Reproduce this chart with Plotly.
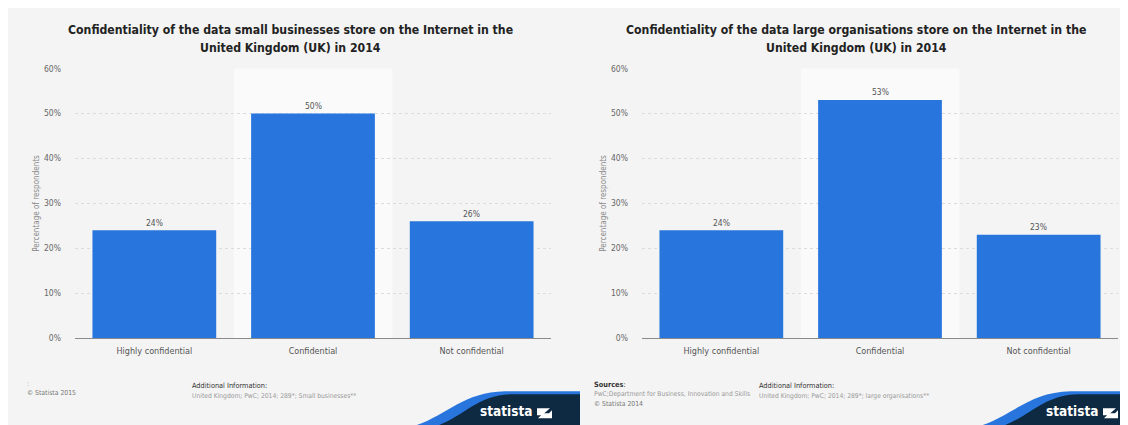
import plotly.graph_objects as go

categories = ["Highly confidential", "Confidential", "Not confidential"]
small_values = [24, 50, 26]
large_values = [24, 53, 23]
tick_vals = [0, 10, 20, 30, 40, 50, 60]
tick_text = ["0%", "10%", "20%", "30%", "40%", "50%", "60%"]

title_left = ["Confidentiality of the data small businesses store on the Internet in the",
              "United Kingdom (UK) in 2014"]
title_right = ["Confidentiality of the data large organisations store on the Internet in the",
               "United Kingdom (UK) in 2014"]

# page body has an 8px margin; positions below are given in reference pixels
OFF = 8
W, H = 1128 - OFF, 425 - OFF
def px(x): return (x - OFF) / W
def py(y):
    p = (y - 5.8) / 0.974  # vertical calibration of the rendered page
    return 1 - (p - OFF) / H

BLUE = "#2876dd"
DARK = "#0e2a43"
BG = "#f4f4f4"
FONT = "DejaVu Sans Condensed, DejaVu Sans, sans-serif"
LOGO_FONT = "Liberation Sans Narrow, DejaVu Sans Condensed, sans-serif"

fig = go.Figure()
annotations = []
for vals, xa, ya in ((small_values, "x", "y"), (large_values, "x2", "y2")):
    fig.add_trace(go.Bar(x=categories, y=vals, marker_color=BLUE, marker_line_width=0,
                         cliponaxis=False, xaxis=xa, yaxis=ya, hoverinfo="skip"))
    for c, v in zip(categories, vals):
        annotations.append(dict(x=c, y=v, xref=xa, yref=ya, text=f"{v}%", showarrow=False,
                                yanchor="bottom", yshift=0.5,
                                font=dict(size=8.5, color="#555", family=FONT)))

ydom = [py(338), py(69)]
yax = dict(range=[0, 60], tickvals=tick_vals, ticktext=tick_text, showgrid=True,
           gridcolor="#dcdcdc", griddash="dot", gridwidth=1, zeroline=False,
           tickfont=dict(size=8.5, color="#666", family=FONT), ticks="", showline=False,
           ticklabelstandoff=13, domain=ydom, fixedrange=True)
xax = dict(showline=True, linecolor="#8a8a8a", linewidth=1, ticks="",
           tickfont=dict(size=9, color="#555", family=FONT), showgrid=False,
           ticklabelstandoff=4)

shapes = []
shapes.append(dict(type="rect", xref="paper", yref="paper", x0=px(6), x1=px(1140), y0=-0.05, y1=py(7),
                   fillcolor=BG, line_width=0, layer="below"))
shapes.append(dict(type="rect", xref="x", yref="y domain", x0=0.5, x1=1.5, y0=0, y1=1,
                   fillcolor="#fafafa", line_width=0, layer="below"))
shapes.append(dict(type="rect", xref="x2", yref="y2 domain", x0=0.5, x1=1.5, y0=0, y1=1,
                   fillcolor="#fafafa", line_width=0, layer="below"))

def path(cmds):
    parts = []
    for cmd, pts in cmds:
        parts.append(cmd + " " + " ".join(f"{px(x):.5f},{py(y):.5f}" for x, y in pts))
    return " ".join(parts) + " Z"

def poly(pts):
    return path([("M", [pts[0]])] + [("L", [p]) for p in pts[1:]])

def txt(x, y, text, size, color, xanchor="left", yanchor="middle", angle=0, bold=False, align="left", family=FONT):
    annotations.append(dict(x=px(x), y=py(y), xref="paper", yref="paper", text=(f"<b>{text}</b>" if bold else text),
                            showarrow=False, xanchor=xanchor, yanchor=yanchor, textangle=angle,
                            font=dict(size=size, color=color, family=family), align=align))

for off in (0, 566):
    blue = path([("M", [(386 + off, 430)]),
                 ("C", [(440 + off, 429), (452 + off, 392), (505 + off, 391)]),
                 ("L", [(580 + off, 391)]), ("L", [(580 + off, 430)])])
    dark = path([("M", [(412 + off, 430)]),
                 ("C", [(458 + off, 429), (468 + off, 395), (512 + off, 394)]),
                 ("L", [(580 + off, 394)]), ("L", [(580 + off, 430)])])
    shapes.append(dict(type="path", xref="paper", yref="paper", path=blue, fillcolor=BLUE, line_width=0))
    shapes.append(dict(type="path", xref="paper", yref="paper", path=dark, fillcolor=DARK, line_width=0))
    w1 = poly([(537 + off, 408), (550 + off, 408), (542 + off, 415), (537 + off, 415)])
    w2 = poly([(552 + off, 410), (552 + off, 418), (538 + off, 418), (543 + off, 413), (549 + off, 413)])
    shapes.append(dict(type="path", xref="paper", yref="paper", path=w1, fillcolor="white", line_width=0))
    shapes.append(dict(type="path", xref="paper", yref="paper", path=w2, fillcolor="white", line_width=0))
    txt(534 + off, 411, "statista", 13.5, "white", xanchor="right", bold=True, family=LOGO_FONT)

txt(290, 31, title_left[0], 12.2, "#222", xanchor="center", bold=True)
txt(290, 49, title_left[1], 12.2, "#222", xanchor="center", bold=True)
txt(856, 31, title_right[0], 12.2, "#222", xanchor="center", bold=True)
txt(856, 49, title_right[1], 12.2, "#222", xanchor="center", bold=True)
txt(37, 204, "Percentage of respondents", 8, "#888", xanchor="center", angle=-90)
txt(604, 204, "Percentage of respondents", 8, "#888", xanchor="center", angle=-90)

# footers left
txt(25, 384, ":", 6.8, "#888")
txt(25, 393, "© Statista 2015", 6.8, "#777")
txt(190, 385, "Additional Information:", 7.3, "#333")
txt(190, 396, "United Kingdom; PwC; 2014; 289*; Small businesses**", 6.7, "#999")
# footers right
txt(592, 384, "<b>Sources</b>:", 7.3, "#333")
txt(592, 394, "PwC;Department for Business, Innovation and Skills", 6.7, "#999")
txt(592, 404, "© Statista 2014", 6.8, "#777")
txt(757, 385, "Additional Information:", 7.3, "#333")
txt(757, 396, "United Kingdom; PwC; 2014; 289*; large organisations**", 6.7, "#999")

fig.update_layout(
    width=W, height=H, margin=dict(l=0, r=0, t=0, b=0),
    paper_bgcolor="white", plot_bgcolor="rgba(0,0,0,0)",
    showlegend=False, bargap=0.22,
    xaxis=dict(domain=[px(75), px(551)], anchor="y", **xax),
    yaxis=dict(anchor="x", **yax),
    xaxis2=dict(domain=[px(642), px(1118)], anchor="y2", **xax),
    yaxis2=dict(anchor="x2", **yax),
    shapes=shapes, annotations=annotations,
    font=dict(family=FONT),
)

fig.write_html("out.html")
